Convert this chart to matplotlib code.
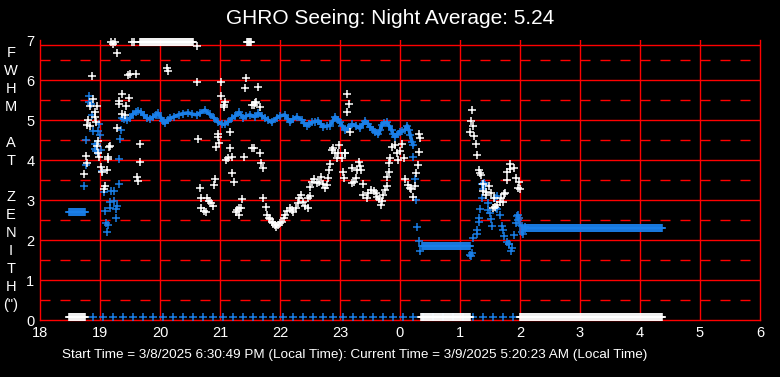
import matplotlib.pyplot as plt
import numpy as np

plt.rcParams['font.family'] = ['Liberation Sans', 'DejaVu Sans']
plt.rcParams['lines.scale_dashes'] = False

title = 'GHRO Seeing: Night Average: 5.24'
footer = ('Start Time = 3/8/2025 6:30:49 PM (Local Time): '
          'Current Time = 3/9/2025 5:20:23 AM (Local Time)')
ylabel_letters = ['F', 'W', 'H', 'M', '', 'A', 'T', '', 'Z', 'E', 'N', 'I', 'T', 'H', '(")']
hour_ticks = list(range(18, 31))
hour_labels = [str(h % 24) for h in hour_ticks]
y_ticks = list(range(0, 8))

# raw seeing samples: hours from midnight of start day, FWHM in arcsec
raw_t = [19.19, 19.22, 19.25, 19.53, 19.57, 20.62,
         18.86, 19.46, 19.50, 19.60, 19.28, 19.36, 18.89, 19.49, 19.31, 19.32, 19.44, 18.83,
         18.95, 18.91, 19.37, 19.42, 18.80, 18.92, 18.93, 18.79, 18.84, 19.29, 19.67, 18.96,
         18.95, 19.17, 19.15, 18.97, 18.76, 18.99, 19.13, 19.14, 19.66, 18.78, 19.01, 19.11,
         19.04, 18.74, 19.62, 19.64, 19.09, 19.06,
         20.11, 20.13, 20.62, 21.01, 21.44, 21.42, 21.02, 21.09, 21.06, 21.07, 21.54, 21.16,
         20.64, 20.96, 20.97, 20.99, 20.94, 21.17, 21.54, 21.20, 21.13, 21.10, 21.40, 21.20,
         21.24, 20.92, 20.90, 20.66, 21.37, 20.68, 20.79, 20.82, 20.85, 20.88, 20.69, 20.73,
         20.76, 21.28, 21.32, 21.35, 21.27, 21.31,
         21.64, 21.60, 21.56, 21.66, 21.58, 23.12, 23.15, 23.11, 21.56, 21.67, 21.69, 21.71,
         21.72, 21.76, 21.78, 21.81, 21.83, 21.86, 21.89, 21.92, 21.94, 21.97, 22.00, 22.04,
         22.07, 22.09, 22.12, 22.16, 22.20, 22.22, 22.27, 22.30, 22.32, 22.35, 22.38, 22.42,
         22.46, 22.47, 22.50, 22.50, 22.53, 22.57, 22.61, 22.65, 22.68, 22.71, 22.75, 22.78,
         22.80, 22.81, 22.83, 22.86, 22.89, 22.92, 22.95, 22.97, 22.99, 23.03, 23.08, 23.05,
         23.07,
         23.17, 23.09, 23.31, 23.33, 23.29, 23.35, 23.20, 23.27, 23.24, 23.20, 23.38, 23.39,
         23.45, 23.47, 23.52, 23.56, 23.60, 23.62, 23.65, 23.68, 23.70, 23.72, 23.75, 23.78,
         23.79, 23.81, 23.82, 23.84, 23.86, 23.92, 23.95, 24.00, 24.03, 24.06, 23.96, 24.08,
         24.13, 24.17, 24.19, 24.22, 24.25, 24.27, 24.30, 24.31, 24.32, 24.34,
         25.20, 25.18, 25.22, 25.17, 25.24, 25.27, 25.29, 25.31, 25.33, 25.35, 25.38, 25.44,
         25.49, 25.52, 25.43, 25.39, 25.56, 25.58, 25.55, 25.62, 25.66, 25.69, 25.74, 25.78,
         25.83, 25.90, 25.84, 25.78, 25.94, 25.98, 25.97, 26.00, 25.72, 25.75]
raw_v = [6.94, 6.89, 6.94, 6.94, 6.94, 6.86,
         6.09, 6.12, 6.14, 6.14, 6.67, 5.64, 5.52, 5.54, 5.47, 5.40, 5.35, 5.34,
         5.35, 5.21, 5.16, 5.13, 5.00, 5.07, 4.94, 4.88, 4.84, 4.79, 4.39, 4.48,
         4.35, 4.35, 4.32, 4.17, 4.10, 4.08, 4.07, 4.03, 3.94, 3.93, 3.82, 3.75,
         3.71, 3.64, 3.58, 3.47, 3.35, 3.28,
         6.29, 6.22, 5.94, 5.94, 6.04, 5.79, 5.59, 5.44, 5.38, 5.32, 5.38, 4.71,
         4.52, 4.64, 4.57, 4.42, 4.32, 4.31, 4.29, 4.07, 4.04, 3.99, 4.07, 3.68,
         3.45, 3.53, 3.37, 3.29, 3.02, 3.04, 3.04, 2.98, 2.92, 2.86, 2.79, 2.73,
         2.69, 2.75, 2.79, 2.81, 2.69, 2.63,
         5.82, 5.46, 5.38, 5.33, 5.42, 5.64, 5.40, 5.19, 4.29, 4.17, 3.92, 3.79,
         3.04, 2.82, 2.63, 2.56, 2.52, 2.46, 2.42, 2.38, 2.33, 2.38, 2.42, 2.46,
         2.56, 2.63, 2.73, 2.79, 2.75, 2.71, 2.79, 2.92, 3.04, 3.13, 2.96, 2.86,
         2.81, 3.04, 3.11, 3.33, 3.46, 3.53, 3.42, 3.46, 3.58, 3.39, 3.29, 3.38,
         3.54, 3.75, 3.89, 4.25, 4.29, 4.17, 4.06, 4.17, 4.38, 4.06, 4.17, 3.71,
         3.54,
         4.69, 4.17, 3.96, 3.86, 3.75, 3.75, 3.79, 3.54, 3.46, 3.42, 3.40, 3.13,
         3.04, 3.17, 3.25, 3.22, 3.18, 3.08, 3.02, 2.88, 2.98, 3.13, 3.25, 3.35,
         3.58, 3.69, 3.92, 4.04, 4.32, 4.38, 4.18, 4.23, 4.39, 4.06, 4.00, 3.52,
         3.38, 3.31, 3.27, 3.07, 3.36, 3.67, 3.88, 4.19, 4.64, 4.54,
         5.24, 4.98, 4.85, 4.71, 4.60, 4.40, 4.13, 3.75, 3.68, 3.63, 3.40, 3.21,
         3.36, 3.17, 3.13, 3.23, 3.04, 2.83, 2.79, 2.88, 2.96, 3.04, 3.15, 3.71,
         3.77, 3.81, 3.90, 3.50, 3.54, 3.44, 3.31, 3.28, 2.96, 3.17]

# running average: scattered samples
avg_t = [18.81, 18.82, 18.85, 18.86, 18.99, 18.89, 18.97, 19.00, 18.77, 18.91, 18.95, 19.35,
         19.34, 18.92, 18.94, 18.96, 19.02, 19.32, 18.76, 19.04, 19.31, 18.74, 19.07, 19.19,
         19.23, 19.17, 19.24, 19.16, 19.29, 19.27, 19.09, 19.26, 19.10, 19.14, 19.12,
         24.22, 24.25, 24.27, 24.29, 24.31, 24.33, 24.37, 25.17, 25.20, 25.19,
         25.22, 25.28, 25.29, 25.32, 25.31, 25.33, 25.36, 25.38, 25.36, 25.40, 25.42, 25.46,
         25.47, 25.50, 25.51, 25.53, 25.58, 25.61, 25.60, 25.62, 25.67, 25.70, 25.72, 25.74,
         25.78, 25.82, 25.86, 25.85, 25.81, 25.90, 25.96, 25.98, 25.94, 26.00, 26.03, 26.05,
         25.95, 25.97, 26.03, 26.05, 26.08]
avg_v = [5.60, 5.46, 5.41, 5.13, 4.89, 4.72, 4.72, 4.63, 4.49, 4.41, 4.39, 4.74,
         4.52, 4.27, 4.23, 4.17, 4.25, 4.02, 3.88, 3.73, 3.41, 3.34, 3.21, 3.22,
         3.22, 2.96, 2.98, 2.81, 2.84, 2.77, 2.73, 2.54, 2.42, 2.38, 2.19,
         4.08, 3.53, 3.00, 2.32, 1.98, 1.73, 1.86, 1.63, 1.68, 1.61,
         2.04, 2.15, 2.25, 2.56, 2.44, 2.77, 3.06, 3.27, 3.39, 3.42, 3.38, 2.92,
         2.75, 2.67, 2.52, 2.36, 3.04, 3.10, 2.79, 2.77, 2.63, 2.35, 2.25, 2.10,
         1.96, 1.89, 1.79, 1.73, 1.90, 2.13, 2.63, 2.54, 2.43, 2.38, 2.21, 2.15,
         2.60, 2.50, 2.35, 2.25, 2.32]

# running average: the steady band through the middle of the night
curve_t = [19.36, 19.40, 19.45, 19.50, 19.55, 19.60, 19.63, 19.68, 19.73, 19.78, 19.83, 19.88,
           19.93, 19.97, 20.02, 20.05, 20.08, 20.13, 20.17, 20.23, 20.31, 20.38, 20.47, 20.53,
           20.61, 20.67, 20.75, 20.83, 20.90, 20.97, 21.03, 21.08, 21.13, 21.20, 21.25, 21.32,
           21.39, 21.43, 21.50, 21.58, 21.64, 21.70, 21.75, 21.80, 21.86, 21.95, 22.00, 22.08,
           22.13, 22.17, 22.22, 22.28, 22.36, 22.40, 22.45, 22.48, 22.53, 22.58, 22.64, 22.68,
           22.72, 22.78, 22.83, 22.88, 22.92, 22.97, 23.00, 23.04, 23.08, 23.13, 23.20, 23.27,
           23.33, 23.38, 23.42, 23.47, 23.50, 23.55, 23.58, 23.64, 23.67, 23.70, 23.73, 23.78,
           23.82, 23.86, 23.88, 23.92, 23.96, 24.00, 24.04, 24.08, 24.12, 24.15, 24.17, 24.20,
           24.22]
curve_v = [5.04, 5.02, 5.00, 5.05, 5.15, 5.20, 5.22, 5.20, 5.12, 5.05, 5.02, 5.07,
           5.12, 5.17, 5.05, 4.97, 4.92, 5.00, 5.04, 5.08, 5.13, 5.16, 5.18, 5.15,
           5.13, 5.18, 5.25, 5.14, 5.05, 4.94, 4.90, 4.89, 4.95, 5.04, 5.10, 5.19,
           5.04, 5.10, 5.13, 5.08, 5.17, 5.10, 5.04, 5.00, 4.94, 5.06, 5.10, 5.13,
           5.02, 4.94, 5.02, 5.08, 5.00, 4.92, 4.86, 4.90, 4.94, 4.96, 4.98, 4.90,
           4.83, 4.85, 4.86, 4.98, 5.08, 5.00, 4.94, 4.85, 4.75, 4.80, 4.89, 4.85,
           4.79, 4.90, 4.98, 4.90, 4.83, 4.76, 4.71, 4.64, 4.75, 4.88, 4.92, 4.94,
           4.85, 4.75, 4.65, 4.58, 4.65, 4.71, 4.73, 4.75, 4.86, 4.75, 4.63, 4.46,
           4.38]

# flat runs of identical readings: (start hour, end hour, step hour, value)
raw_runs = [(19.67, 20.56, 1 / 60, 6.94), (21.45, 21.53, 1 / 60, 6.94),
            (18.48, 18.75, 1 / 60, 0.07), (24.35, 25.17, 1 / 60, 0.07),
            (26.00, 28.37, 1 / 60, 0.07)]
avg_runs = [(18.48, 18.75, 1 / 60, 2.70), (24.38, 25.17, 1 / 60, 1.84),
            (26.08, 28.37, 1 / 60, 2.29), (18.88, 25.93, 1 / 6, 0.07)]


def expand(runs):
    ts, vs = [], []
    for t0, t1, step, val in runs:
        t = np.arange(t0, t1 + 1e-9, step)
        ts.extend(t)
        vs.extend([val] * len(t))
    return ts, vs


W, H = 780, 377
fig = plt.figure(figsize=(W / 100, H / 100), dpi=100, facecolor='black')
ax = fig.add_axes([40 / W, 57 / H, 720 / W, 280 / H], facecolor='black')
ax.set_xlim(18, 30)
ax.set_ylim(0, 7)

red = '#ff0000'
for h in range(19, 30):
    ax.axvline(h, color=red, lw=1.0, zorder=1)
for v in range(1, 7):
    ax.axhline(v, color=red, lw=1.0, zorder=1)
for v in np.arange(0.5, 7, 1.0):
    ax.axhline(v, color=red, lw=1.0, dashes=(7.2, 7.2), zorder=1)
ax.axhline(6.875, color=red, lw=1.0, zorder=1)

for s in ['left', 'right', 'bottom']:
    ax.spines[s].set_color(red)
    ax.spines[s].set_linewidth(1.0)
ax.spines['top'].set_visible(False)

blue = '#1a7fe8'
mk = dict(linestyle='none', marker='+', markersize=5.5, markeredgewidth=1.1, clip_on=False)

at, av = expand(avg_runs)
ax.plot(avg_t + at, avg_v + av, color=blue, zorder=3, **mk)
ax.plot(curve_t, curve_v, color=blue, lw=2.5, zorder=3)
ax.plot(curve_t, curve_v, color=blue, zorder=3, **mk)
rt, rv = expand(raw_runs)
ax.plot(raw_t + rt, raw_v + rv, color='white', zorder=4, **mk)

ax.set_xticks(hour_ticks)
ax.set_xticklabels(hour_labels)
ax.set_yticks(y_ticks)
ax.tick_params(length=0, colors='white', labelsize=10.5, pad=4)

fig.text(390 / W, 1 - 18 / H, title, color='white', fontsize=15, ha='center', va='center')
fig.text(62 / W, 1 - 355 / H, footer, color='white', fontsize=9.7, ha='left', va='center')
for i, letter in enumerate(ylabel_letters):
    fig.text(11 / W, 1 - (53 + 18 * i) / H, letter, color='white', fontsize=10.5,
             ha='center', va='center')

fig.savefig('out.png', dpi=100, facecolor='black')
